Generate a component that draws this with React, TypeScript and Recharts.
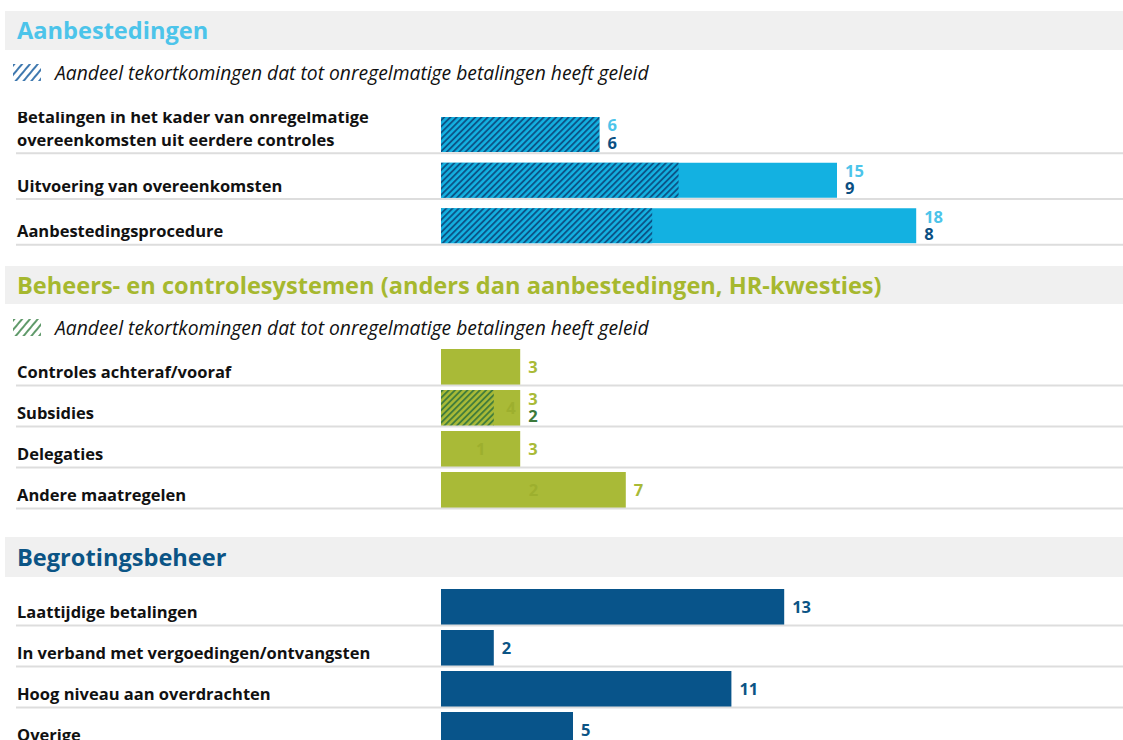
import React from "react";
import { Bar, BarChart, LabelList, XAxis, YAxis } from "recharts";

const FONT = "'Open Sans', sans-serif";

const legendText = "Aandeel tekortkomingen dat tot onregelmatige betalingen heeft geleid";

// Aanbestedingen
const tenderRows = [
  "Betalingen in het kader van onregelmatige\novereenkomsten uit eerdere controles",
  "Uitvoering van overeenkomsten",
  "Aanbestedingsprocedure",
];
const tenderTotals = [6, 15, 18];
const tenderIrregular = [6, 9, 8];

// Beheers- en controlesystemen
const systemRows = ["Controles achteraf/vooraf", "Subsidies", "Delegaties", "Andere maatregelen"];
const systemTotals = [3, 3, 3, 7];
const systemIrregular = [null, 2, null, null];
const systemFaint = [null, 4, 1, 2];

// Begrotingsbeheer
const budgetRows = [
  "Laattijdige betalingen",
  "In verband met vergoedingen/ontvangsten",
  "Hoog niveau aan overdrachten",
  "Overige",
];
const budgetTotals = [13, 2, 11, 5];

type Theme = {
  id: string;
  bar: string;
  top: string;
  bottom: string;
  stripe: string;
  faint: string;
};

const blue: Theme = { id: "hatchBlue", bar: "#13B1E1", top: "#4CC4EA", bottom: "#0B4F82", stripe: "#0B4F82", faint: "#0E9CCB" };
const olive: Theme = { id: "hatchOlive", bar: "#A9BA37", top: "#A9BA37", bottom: "#3C7A3B", stripe: "#3C7A3B", faint: "#9DAF2E" };
const navy: Theme = { id: "hatchNavy", bar: "#08548A", top: "#0B5485", bottom: "#0B5485", stripe: "#0B5485", faint: "#0B5485" };

const LABEL_SIZE = 16.5;

function RowTick(props: any) {
  const { y, payload, half } = props;
  const lines = String(payload.value).split("\n");
  const last = y + half - 12;
  return (
    <g>
      {lines.map((l: string, i: number) => (
        <text
          key={i}
          x={17}
          y={last - (lines.length - 1 - i) * 23}
          dy="0.35em"
          fontFamily={FONT}
          fontWeight={700}
          fontSize={LABEL_SIZE}
          fill="#111"
        >
          {l}
        </text>
      ))}
      <line x1={16} x2={1123} y1={y + half + 1} y2={y + half + 1} stroke="#DDDDDD" strokeWidth={2} />
    </g>
  );
}

type RowsProps = {
  rows: string[];
  totals: number[];
  parts?: (number | null)[];
  faint?: (number | null)[];
  top: number;
  height: number;
  barSize: number;
  theme: Theme;
};

function RowsChart({ rows, totals, parts, faint, top, height, barSize, theme }: RowsProps) {
  const data = rows.map((name, i) => ({
    name,
    total: totals[i],
    part: parts ? parts[i] : null,
    faint: faint ? faint[i] : null,
  }));
  const half = barSize / 2;

  const valueLabel = (p: any) => {
    const { x, y, width, height: h, value, index } = p;
    const part = parts ? parts[index] : null;
    const lx = Number(x) + Number(width) + 8;
    const cy = Number(y) + Number(h) / 2;
    const style = { fontFamily: FONT, fontWeight: 700, fontSize: LABEL_SIZE };
    if (part != null) {
      return (
        <g>
          <text x={lx} y={cy - 9} dy="0.35em" fill={theme.top} {...style}>{value}</text>
          <text x={lx} y={cy + 8.5} dy="0.35em" fill={theme.bottom} {...style}>{part}</text>
        </g>
      );
    }
    return <text x={lx} y={cy} dy="0.35em" fill={theme.top} {...style}>{value}</text>;
  };

  const faintLabel = (p: any) => {
    const { x, y, width, height: h, value, index } = p;
    if (value == null) return null;
    const part = parts ? parts[index] : null;
    const hw = part != null ? (Number(width) * part) / totals[index] : 0;
    const cx = Number(x) + hw + (Number(width) - hw) / 2 + (part != null ? 4 : 0);
    return (
      <text x={cx} y={Number(y) + Number(h) / 2} dy="0.35em" textAnchor="middle" fill={theme.faint}
        fontFamily={FONT} fontWeight={700} fontSize={LABEL_SIZE}>
        {value}
      </text>
    );
  };

  return (
    <div style={{ position: "absolute", left: 0, top, width: 1123, height }}>
      <BarChart
        width={1123}
        height={height}
        data={data}
        layout="vertical"
        barSize={barSize}
        margin={{ top: 0, right: 22, left: 0, bottom: 0 }}
      >
        <defs>
          <pattern id={theme.id} patternUnits="userSpaceOnUse" width={4.4} height={4.4} patternTransform="rotate(45)">
            <rect width={4.4} height={4.4} fill={theme.bar} />
            <line x1={1} y1={0} x2={1} y2={4.4} stroke={theme.stripe} strokeWidth={1.8} />
          </pattern>
        </defs>
        <XAxis type="number" domain={[0, 25]} hide />
        <YAxis
          yAxisId="main"
          type="category"
          dataKey="name"
          width={441}
          axisLine={false}
          tickLine={false}
          interval={0}
          tick={(p: any) => <RowTick {...p} half={half} />}
        />
        <YAxis yAxisId="over" type="category" dataKey="name" hide />
        <Bar yAxisId="main" dataKey="total" fill={theme.bar} isAnimationActive={false}>
          <LabelList dataKey="total" content={valueLabel} />
          {faint && <LabelList dataKey="faint" content={faintLabel} />}
        </Bar>
        {parts && (
          <Bar yAxisId="over" dataKey="part" fill={`url(#${theme.id})`} isAnimationActive={false} />
        )}
      </BarChart>
    </div>
  );
}

function Header({ title, color, top, height }: { title: string; color: string; top: number; height: number }) {
  return (
    <div
      style={{
        position: "absolute",
        left: 5,
        top,
        width: 1118,
        height,
        background: "#F0F0F0",
        boxSizing: "border-box",
        paddingLeft: 12,
        lineHeight: `${height}px`,
        fontFamily: FONT,
        fontWeight: 700,
        fontSize: 23.6,
        color,
        whiteSpace: "nowrap",
      }}
    >
      {title}
    </div>
  );
}

function HatchLegend({ top, stripe, id }: { top: number; stripe: string; id: string }) {
  return (
    <div style={{ position: "absolute", left: 13, top, height: 20, display: "flex", alignItems: "center" }}>
      <svg width={28} height={17}>
        <defs>
          <pattern id={id} patternUnits="userSpaceOnUse" width={6} height={6} patternTransform="rotate(40)">
            <line x1={1} y1={0} x2={1} y2={6} stroke={stripe} strokeWidth={1.8} />
          </pattern>
        </defs>
        <rect width={28} height={17} fill={`url(#${id})`} />
      </svg>
      <span
        style={{
          marginLeft: 14,
          fontFamily: FONT,
          fontStyle: "italic",
          fontSize: 19.3,
          color: "#111",
          whiteSpace: "nowrap",
        }}
      >
        {legendText}
      </span>
    </div>
  );
}

export default function App() {
  return (
    <div
      style={{
        position: "fixed",
        left: 0,
        top: 0,
        width: 1123,
        height: 740,
        overflow: "hidden",
        background: "#fff",
      }}
    >
      <Header title="Aanbestedingen" color="#4CC4EA" top={11} height={39} />
      <HatchLegend top={62} stripe="#2A6AA6" id="legendBlue" />
      <RowsChart rows={tenderRows} totals={tenderTotals} parts={tenderIrregular} top={112} height={137} barSize={35} theme={blue} />

      <Header title="Beheers- en controlesystemen (anders dan aanbestedingen, HR-kwesties)" color="#A6B82F" top={266} height={38} />
      <HatchLegend top={317} stripe="#4E8F5A" id="legendOlive" />
      <RowsChart rows={systemRows} totals={systemTotals} parts={systemIrregular} faint={systemFaint} top={346} height={164} barSize={36} theme={olive} />

      <Header title="Begrotingsbeheer" color="#0B5485" top={537} height={40} />
      <RowsChart rows={budgetRows} totals={budgetTotals} top={586} height={164} barSize={36} theme={navy} />
    </div>
  );
}
